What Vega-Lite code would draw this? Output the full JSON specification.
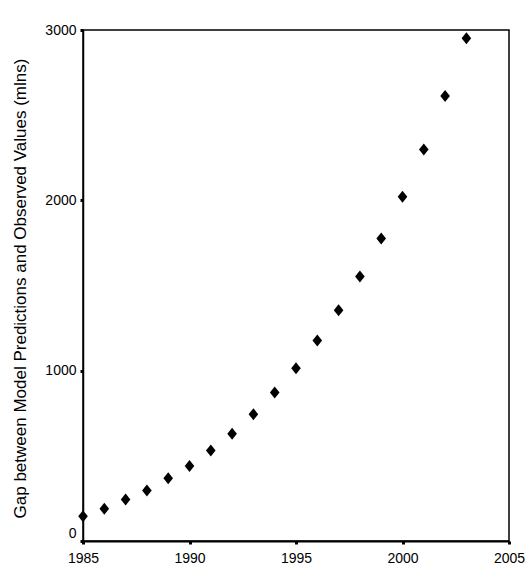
{
  "$schema": "https://vega.github.io/schema/vega-lite/v6.json",
  "autosize": {"type": "none"},
  "padding": {"left": 83, "top": 30, "right": 20, "bottom": 43},
  "width": 426,
  "height": 511,
  "background": "white",
  "data": {
    "values": [
      {"year": 1985, "gap": 145},
      {"year": 1986, "gap": 190},
      {"year": 1987, "gap": 243},
      {"year": 1988, "gap": 296},
      {"year": 1989, "gap": 368},
      {"year": 1990, "gap": 441},
      {"year": 1991, "gap": 531},
      {"year": 1992, "gap": 629},
      {"year": 1993, "gap": 744},
      {"year": 1994, "gap": 872},
      {"year": 1995, "gap": 1014},
      {"year": 1996, "gap": 1177},
      {"year": 1997, "gap": 1355},
      {"year": 1998, "gap": 1553},
      {"year": 1999, "gap": 1776},
      {"year": 2000, "gap": 2021},
      {"year": 2001, "gap": 2299},
      {"year": 2002, "gap": 2612},
      {"year": 2003, "gap": 2951}
    ]
  },
  "mark": {
    "type": "point",
    "shape": "M0,-1L0.8,0L0,1L-0.8,0Z",
    "size": 144,
    "filled": true,
    "color": "black",
    "opacity": 1
  },
  "encoding": {
    "x": {
      "field": "year",
      "type": "quantitative",
      "scale": {"domain": [1985, 2005], "nice": false, "zero": false},
      "axis": {
        "title": null,
        "values": [1985, 1990, 1995, 2000, 2005],
        "format": "d",
        "grid": false,
        "labelFlush": false,
        "labelPadding": 7
      }
    },
    "y": {
      "field": "gap",
      "type": "quantitative",
      "scale": {"domain": [0, 3000], "nice": false},
      "axis": {
        "title": "Gap between Model Predictions and Observed Values (mlns)",
        "values": [0, 1000, 2000, 3000],
        "format": "d",
        "grid": false,
        "labelFlush": false,
        "labelPadding": 4,
        "labelOffset": {"condition": {"test": "datum.value == 0", "value": -8}, "value": 0},
        "titleX": -63,
        "titleY": 258,
        "titleAngle": -90,
        "titleAlign": "center",
        "titleBaseline": "middle",
        "titleFont": "Liberation Sans",
        "titleFontSize": 17,
        "titleFontWeight": "normal"
      }
    }
  },
  "config": {
    "view": {"stroke": "black", "strokeWidth": 1.5},
    "axis": {
      "domainColor": "black",
      "domainWidth": 1.5,
      "tickColor": "black",
      "tickSize": 3,
      "tickWidth": 3,
      "labelColor": "black",
      "labelFont": "Liberation Sans",
      "labelFontSize": 14,
      "titleColor": "black"
    },
    "axisX": {"domainWidth": 2}
  }
}
